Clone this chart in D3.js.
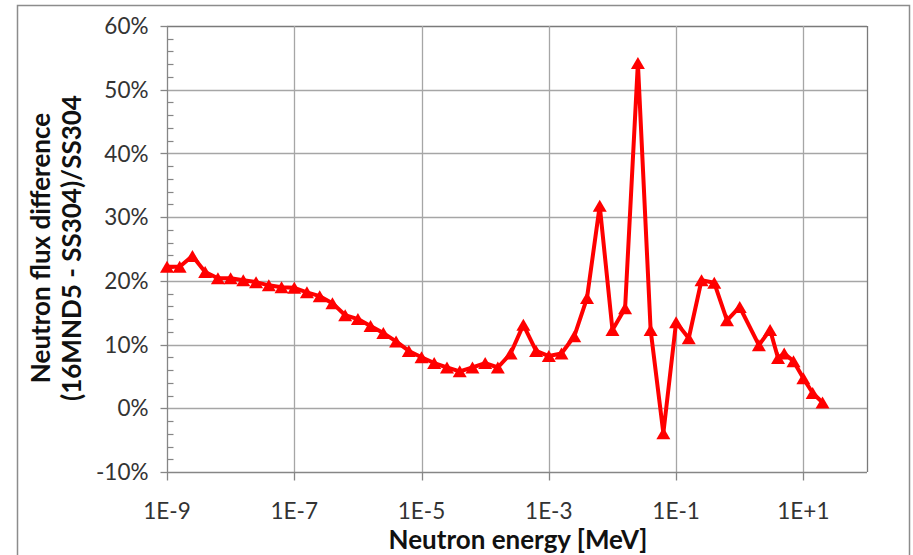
<!DOCTYPE html>
<html>
<head>
<meta charset="utf-8">
<script src="https://cdn.jsdelivr.net/npm/d3@7"></script>
<style>
  html, body { margin: 0; padding: 0; background: #fff; }
  svg { display: block; }
  text { font-family: Lato, "Open Sans", "Liberation Sans", sans-serif; }
</style>
</head>
<body>
<svg id="chart" width="913" height="555"></svg>
<script>
// Neutron energy group points [MeV]
const energies = [
  1.00e-9, 1.58e-9, 2.51e-9, 3.98e-9, 6.31e-9,
  1.00e-8, 1.58e-8, 2.51e-8, 3.98e-8, 6.31e-8,
  1.00e-7, 1.58e-7, 2.51e-7, 3.98e-7, 6.31e-7,
  1.00e-6, 1.58e-6, 2.51e-6, 3.98e-6, 6.31e-6,
  1.00e-5, 1.58e-5, 2.51e-5, 3.98e-5, 6.31e-5,
  1.00e-4, 1.58e-4, 2.51e-4, 3.98e-4, 6.31e-4,
  1.00e-3, 1.58e-3, 2.51e-3, 3.98e-3, 6.31e-3,
  1.00e-2, 1.58e-2, 2.51e-2, 3.98e-2, 6.31e-2,
  1.00e-1, 1.58e-1, 2.51e-1, 3.98e-1, 6.31e-1,
  1.0, 2.0, 3.0, 4.0, 5.0, 7.0, 10.0, 14.0, 20.0
];

// Relative flux difference (16MND5 - SS304)/SS304, in percent
const fluxDiff = [
  22.2, 22.2, 23.9, 21.4, 20.4,
  20.4, 20.1, 19.8, 19.3, 19.0,
  18.9, 18.2, 17.6, 16.5, 14.6,
  14.0, 12.9, 11.8, 10.5, 9.0,
  8.0, 7.1, 6.4, 5.8, 6.4,
  7.1, 6.4, 8.6, 13.1, 9.0,
  8.2, 8.6, 11.3, 17.3, 31.8,
  12.3, 15.7, 54.2, 12.3, -3.9,
  13.5, 11.0, 20.1, 19.7, 13.8,
  15.9, 9.9, 12.3, 7.9, 8.6,
  7.4, 4.7, 2.4, 0.9
];

const xTickValues = [1e-9, 1e-7, 1e-5, 1e-3, 1e-1, 1e1];
const xTickLabels = ["1E-9", "1E-7", "1E-5", "1E-3", "1E-1", "1E+1"];
const yTickValues = [-10, 0, 10, 20, 30, 40, 50, 60];
const yMinorValues = d3.range(-10, 60.001, 2);

const xTitle = "Neutron energy [MeV]";
const yTitleLines = ["Neutron flux difference", "(16MND5 - SS304)/SS304"];

const svg = d3.select("#chart");
const plot = { left: 167, right: 867, top: 26, bottom: 472 };

const x = d3.scaleLog().domain([1e-9, 1e2]).range([plot.left, plot.right]);
const y = d3.scaleLinear().domain([-10, 60]).range([plot.bottom, plot.top]);

// Outer chart frame
svg.append("rect")
  .attr("x", 17.5).attr("y", 5.5)
  .attr("width", 892).attr("height", 570)
  .attr("fill", "#fff")
  .attr("stroke", "#8c8c8c").attr("stroke-width", 1.5);

// Horizontal gridlines
svg.append("g")
  .selectAll("line")
  .data(yTickValues.filter(v => v > -10))
  .join("line")
  .attr("x1", plot.left).attr("x2", plot.right)
  .attr("y1", d => Math.round(y(d)) + 0.5).attr("y2", d => Math.round(y(d)) + 0.5)
  .attr("stroke", d => d === 60 ? "#7a7a7a" : "#a6a6a6")
  .attr("stroke-width", 1.3);

// Vertical gridlines
svg.append("g")
  .selectAll("line")
  .data(xTickValues.slice(1))
  .join("line")
  .attr("x1", d => Math.round(x(d)) + 0.5).attr("x2", d => Math.round(x(d)) + 0.5)
  .attr("y1", plot.top).attr("y2", plot.bottom)
  .attr("stroke", "#a6a6a6")
  .attr("stroke-width", 1.3);

// Right border of the plot area
svg.append("line")
  .attr("x1", plot.right + 0.5).attr("x2", plot.right + 0.5)
  .attr("y1", plot.top).attr("y2", plot.bottom)
  .attr("stroke", "#7a7a7a").attr("stroke-width", 1.3);

// Y axis: major ticks outward, minor ticks inward
const yAxisG = svg.append("g").attr("transform", `translate(${plot.left + 0.5},0)`);
yAxisG.append("line")
  .attr("y1", plot.top).attr("y2", plot.bottom)
  .attr("stroke", "#868686").attr("stroke-width", 1.3);
yAxisG.selectAll("line.minor")
  .data(yMinorValues.filter(v => v % 10 !== 0))
  .join("line").attr("class", "minor")
  .attr("x1", 0).attr("x2", 6)
  .attr("y1", d => Math.round(y(d)) + 0.5).attr("y2", d => Math.round(y(d)) + 0.5)
  .attr("stroke", "#868686").attr("stroke-width", 1.2);
yAxisG.selectAll("line.major")
  .data(yTickValues)
  .join("line").attr("class", "major")
  .attr("x1", -7).attr("x2", 0)
  .attr("y1", d => Math.round(y(d)) + 0.5).attr("y2", d => Math.round(y(d)) + 0.5)
  .attr("stroke", "#868686").attr("stroke-width", 1.3);
yAxisG.selectAll("text")
  .data(yTickValues)
  .join("text")
  .attr("x", -19).attr("y", d => y(d))
  .attr("dy", "0.36em")
  .attr("text-anchor", "end")
  .attr("font-size", 22.5)
  .attr("fill", "#333")
  .text(d => d + "%");

// X axis
const xAxisG = svg.append("g").attr("transform", `translate(0,${plot.bottom + 0.5})`);
xAxisG.append("line")
  .attr("x1", plot.left).attr("x2", plot.right)
  .attr("stroke", "#868686").attr("stroke-width", 1.3);
xAxisG.selectAll("line.major")
  .data(xTickValues)
  .join("line").attr("class", "major")
  .attr("x1", d => Math.round(x(d)) + 0.5).attr("x2", d => Math.round(x(d)) + 0.5)
  .attr("y1", 0).attr("y2", 8)
  .attr("stroke", "#868686").attr("stroke-width", 1.3);
xAxisG.selectAll("text")
  .data(xTickValues)
  .join("text")
  .attr("x", d => x(d)).attr("y", 46)
  .attr("text-anchor", "middle")
  .attr("font-size", 22.5)
  .attr("fill", "#333")
  .text((d, i) => xTickLabels[i]);

// Axis titles
svg.append("text")
  .attr("x", 518).attr("y", 549)
  .attr("text-anchor", "middle")
  .attr("font-size", 26).attr("font-weight", "bold")
  .attr("fill", "#111")
  .text(xTitle);

svg.append("g")
  .attr("transform", "translate(50,248) rotate(-90)")
  .selectAll("text")
  .data(yTitleLines)
  .join("text")
  .attr("x", 0).attr("y", (d, i) => i * 31)
  .attr("text-anchor", "middle")
  .attr("font-size", 26).attr("font-weight", "bold")
  .attr("fill", "#111")
  .text(d => d);

// Data series
const data = energies.map((e, i) => ({ e, v: fluxDiff[i] }));

svg.append("path")
  .datum(data)
  .attr("fill", "none")
  .attr("stroke", "#ff0000")
  .attr("stroke-width", 4)
  .attr("stroke-linejoin", "round")
  .attr("d", d3.line().x(d => x(d.e)).y(d => y(d.v)));

// Triangle markers centred on their bounding box
const triW = 14, triH = 12;
svg.append("g")
  .selectAll("path")
  .data(data)
  .join("path")
  .attr("fill", "#ff0000")
  .attr("d", d => {
    const cx = x(d.e), cy = y(d.v);
    const p = d3.path();
    p.moveTo(cx, cy - triH / 2);
    p.lineTo(cx + triW / 2, cy + triH / 2);
    p.lineTo(cx - triW / 2, cy + triH / 2);
    p.closePath();
    return p.toString();
  });
</script>
</body>
</html>
